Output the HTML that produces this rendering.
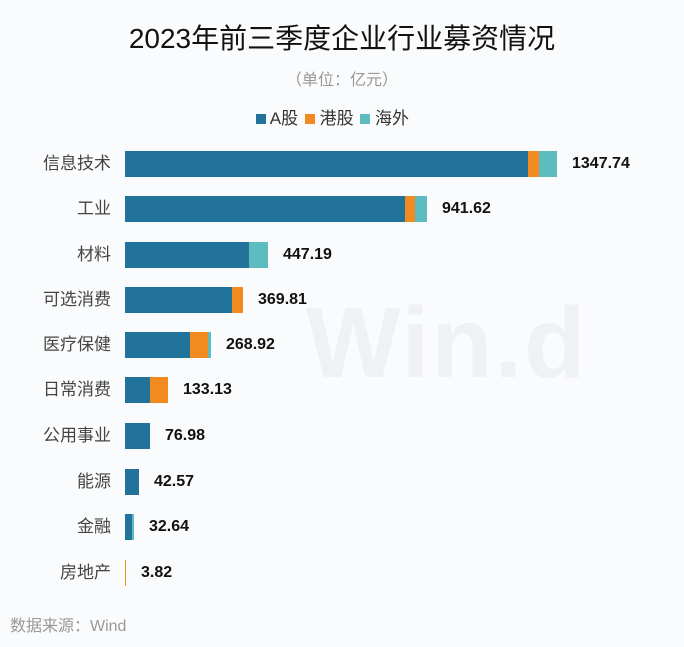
<!DOCTYPE html><html><head><meta charset="utf-8"><style>
body{margin:0;width:684px;height:647px;background:#fafbfc;position:relative;overflow:hidden;font-family:"Liberation Sans","Noto Sans CJK SC",sans-serif}
.a{position:absolute}
.lab{position:absolute;right:573px;font-size:17px;color:#444;white-space:nowrap;line-height:20px}
.val{position:absolute;font-size:16px;font-weight:bold;color:#111;line-height:20px}
.bar{position:absolute;height:26px}
.A{background:#22739c}.H{background:#f28b1f}.O{background:#5dbcbf}
</style></head><body>
<div class="a" style="left:306px;top:286px;font-size:100px;font-weight:bold;color:#f0f1f4;letter-spacing:2px">Win.d</div>
<div class="a" style="left:0;width:684px;top:17px;text-align:center;font-size:28px;color:#111">2023年前三季度企业行业募资情况</div>
<div class="a" style="left:0;width:684px;top:66px;text-align:center;font-size:16px;color:#999">（单位：亿元）</div>
<div class="a" style="left:256px;top:104px;font-size:17px;color:#333;white-space:nowrap">
<span style="display:inline-block;width:10px;height:10px;background:#22739c"></span> A股 <span style="display:inline-block;width:10px;height:10px;background:#f28b1f;margin-left:2px"></span> 港股 <span style="display:inline-block;width:10px;height:10px;background:#5dbcbf;margin-left:2px"></span> 海外</div>
<div id="c"></div>
<div class="a" style="left:10px;top:612px;font-size:16px;color:#999">数据来源：Wind</div>
<script>
var d=[["信息技术",164,[[528,"A"],[539,"H"],[557,"O"]],"1347.74"],["工业",209,[[405,"A"],[415,"H"],[427,"O"]],"941.62"],["材料",255,[[249,"A"],[268,"O"]],"447.19"],["可选消费",300,[[232,"A"],[243,"H"]],"369.81"],["医疗保健",345,[[190,"A"],[208,"H"],[211,"O"]],"268.92"],["日常消费",390,[[150,"A"],[168,"H"]],"133.13"],["公用事业",436,[[150,"A"]],"76.98"],["能源",482,[[139,"A"]],"42.57"],["金融",527,[[132,"A"],[134,"O"]],"32.64"],["房地产",573,[[126,"H"]],"3.82"]];
var h="";d.forEach(function(r){var x=125;r[2].forEach(function(s){h+='<div class="bar '+s[1]+'" style="left:'+x+'px;width:'+(s[0]-x)+'px;top:'+(r[1]-13)+'px"></div>';x=s[0];});
h+='<div class="lab" style="top:'+(r[1]-10)+'px">'+r[0]+'</div><div class="val" style="left:'+(x+15)+'px;top:'+(r[1]-10)+'px">'+r[3]+'</div>';});
document.getElementById("c").innerHTML=h;
</script></body></html>
